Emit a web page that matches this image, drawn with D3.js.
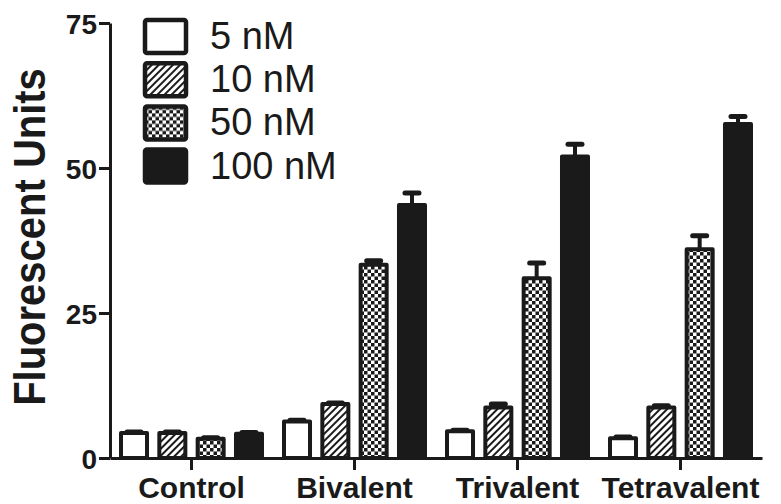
<!DOCTYPE html>
<html>
<head>
<meta charset="utf-8">
<script src="https://cdn.jsdelivr.net/npm/d3@7"></script>
<style>
  html, body { margin: 0; padding: 0; background: #fff; }
  svg { display: block; }
  text { font-family: "Liberation Sans", Arial, Helvetica, sans-serif; fill: #1a1a1a; }
</style>
</head>
<body>
<svg id="chart" width="781" height="504"></svg>
<script>
// Fluorescence by construct valency at four concentrations
const categories = ["Control", "Bivalent", "Trivalent", "Tetravalent"];
const seriesNames = ["5 nM", "10 nM", "50 nM", "100 nM"];
const values5 = [4.3, 6.3, 4.6, 3.4];
const values10 = [4.3, 9.3, 8.7, 8.7];
const values50 = [3.3, 33.3, 31.0, 36.0];
const values100 = [4.2, 43.6, 52.0, 57.6];
const err5 = [0.2, 0.2, 0.2, 0.2];
const err10 = [0.2, 0.2, 0.6, 0.3];
const err50 = [0.2, 0.7, 2.6, 2.3];
const err100 = [0.2, 2.1, 2.1, 1.3];
const yTicks = [0, 25, 50, 75];

const seriesValues = [values5, values10, values50, values100];
const seriesErrors = [err5, err10, err50, err100];
const INK = "#1a1a1a";

const svg = d3.select("#chart");

// fill patterns: plain, hatched, checkered, solid
const defs = svg.append("defs");
const hatch = defs.append("pattern")
  .attr("id", "hatch").attr("patternUnits", "userSpaceOnUse")
  .attr("width", 5).attr("height", 5)
  .attr("patternTransform", "rotate(45)");
hatch.append("rect").attr("width", 5).attr("height", 5).attr("fill", "#fff");
hatch.append("rect").attr("x", 0).attr("width", 2).attr("height", 5).attr("fill", INK);

const checker = defs.append("pattern")
  .attr("id", "checker").attr("patternUnits", "userSpaceOnUse")
  .attr("width", 7).attr("height", 7);
checker.append("rect").attr("width", 7).attr("height", 7).attr("fill", "#fff");
checker.append("rect").attr("width", 3.5).attr("height", 3.5).attr("fill", INK);
checker.append("rect").attr("x", 3.5).attr("y", 3.5).attr("width", 3.5).attr("height", 3.5).attr("fill", INK);

const fills = ["#fff", "url(#hatch)", "url(#checker)", INK];

// scales
const x = d3.scaleBand().domain(categories).range([110, 762]).padding(0);
const xs = d3.scaleBand().domain(seriesNames).range([-72.5, 72.5]).paddingInner(0.217).paddingOuter(0);
const y = d3.scaleLinear().domain([0, 75]).range([458, 23]);

// bars with upper error bars
const SW = 4;
const rows = [];
categories.forEach((c, ci) => {
  seriesNames.forEach((s, si) => {
    rows.push({ cat: c, s, si, v: seriesValues[si][ci], e: seriesErrors[si][ci] });
  });
});

const g = svg.append("g");
const barX = d => x(d.cat) + x.bandwidth() / 2 + xs(d.s);

g.selectAll("line.err").data(rows).join("line")
  .attr("class", "err")
  .attr("x1", d => barX(d) + xs.bandwidth() / 2)
  .attr("x2", d => barX(d) + xs.bandwidth() / 2)
  .attr("y1", d => y(d.v))
  .attr("y2", d => y(d.v + d.e))
  .attr("stroke", INK).attr("stroke-width", 4);

g.selectAll("line.cap").data(rows).join("line")
  .attr("class", "cap")
  .attr("x1", d => barX(d) + xs.bandwidth() / 2 - 7)
  .attr("x2", d => barX(d) + xs.bandwidth() / 2 + 7)
  .attr("y1", d => y(d.v + d.e))
  .attr("y2", d => y(d.v + d.e))
  .attr("stroke", INK).attr("stroke-width", 5).attr("stroke-linecap", "round");

g.selectAll("rect.bar").data(rows).join("rect")
  .attr("class", "bar")
  .attr("x", d => barX(d) + SW / 2)
  .attr("width", xs.bandwidth() - SW)
  .attr("y", d => y(d.v))
  .attr("height", d => y(0) - y(d.v))
  .attr("fill", d => fills[d.si])
  .attr("stroke", INK).attr("stroke-width", SW)
  .attr("stroke-linejoin", "round");

// y axis
const yAxis = d3.axisLeft(y).tickValues(yTicks).tickSize(11).tickPadding(2).tickSizeOuter(0);
const yg = svg.append("g").attr("transform", "translate(110,0)").call(yAxis);
yg.select(".domain").attr("stroke", INK).attr("stroke-width", 3);
yg.selectAll(".tick line").attr("stroke", INK).attr("stroke-width", 3);
yg.selectAll(".tick text")
  .style("font-size", "28px").style("font-weight", "bold")
  .attr("fill", INK).attr("dy", "0.36em");

// x axis
const xAxis = d3.axisBottom(x).tickSize(12).tickPadding(8).tickSizeOuter(0);
const xg = svg.append("g").attr("transform", "translate(0,458)").call(xAxis);
xg.select(".domain").attr("stroke", INK).attr("stroke-width", 3);
xg.selectAll(".tick line").attr("stroke", INK).attr("stroke-width", 3);
xg.selectAll(".tick text")
  .style("font-size", "30px").style("font-weight", "bold")
  .attr("fill", INK).attr("dy", "0.68em");

// y axis title
svg.append("text")
  .attr("transform", "translate(45,237) rotate(-90) scale(1,1.12)")
  .attr("text-anchor", "middle")
  .style("font-size", "40px").style("font-weight", "bold")
  .text("Fluorescent Units");

// legend
const legend = svg.append("g").attr("transform", "translate(145,20)");
const li = legend.selectAll("g").data(seriesNames).join("g")
  .attr("transform", (d, i) => `translate(0,${i * 43.2})`);
li.append("rect")
  .attr("width", 41).attr("height", 33).attr("rx", 2)
  .attr("fill", (d, i) => fills[i])
  .attr("stroke", INK).attr("stroke-width", 4.5).attr("stroke-linejoin", "round");
li.append("text")
  .attr("x", 65).attr("y", 29)
  .style("font-size", "38px")
  .text(d => d);
</script>
</body>
</html>
